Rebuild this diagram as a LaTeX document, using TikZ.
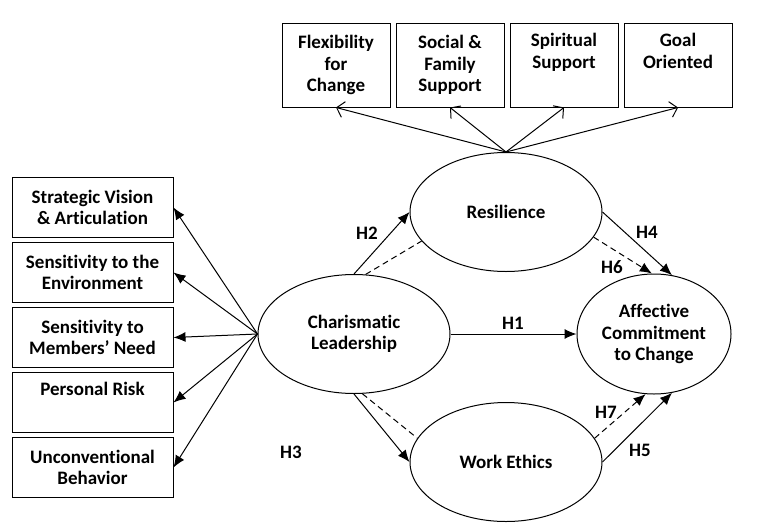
\documentclass[tikz,border=0pt]{standalone}
\usepackage{fontspec}
\setmainfont{Carlito}[Ligatures=NoCommon]
\usetikzlibrary{shapes.geometric, arrows.meta, positioning}

\begin{document}
\begin{tikzpicture}[
    x=1pt, y=-1pt,
    font=\bfseries\fontsize{19}{21.5}\selectfont,
    box/.style={rectangle, draw, line width=1pt, align=center, inner sep=2pt},
    topbox/.style={box, minimum width=108pt, minimum height=84pt},
    sidebox/.style={box, minimum width=161pt, minimum height=60pt},
    latent/.style={ellipse, draw, line width=1pt, align=center, inner sep=0pt, minimum width=192pt, minimum height=119pt},
    arrow/.style={line width=1pt, -{Latex[length=12pt,width=10pt]}},
    dasharrow/.style={arrow, dash pattern=on 6pt off 4pt},
    dashlink/.style={line width=1pt, dash pattern=on 6pt off 4pt},
    barb/.style={line width=1pt, -{Straight Barb[length=7pt,width=16pt]}},
    hyp/.style={inner sep=0pt}
]
    \useasboundingbox (0,0) rectangle (781,522);

    % Latent variables
    \node [latent] (char) at (354,334) {Charismatic\\Leadership};
    \node [latent] (res) at (506,212) {Resilience};
    \node [latent] (work) at (506,462) {Work Ethics};
    \node [latent, minimum width=154pt, minimum height=120pt] (aff) at (654,334) {Affective\\Commitment\\to Change};

    % Indicators of resilience
    \node [topbox] (flex) at (336,65) {Flexibility\\for\\Change};
    \node [topbox, right=5pt of flex] (social) {Social \&\\Family\\Support};
    \node [topbox, right=5pt of social] (spirit) {Spiritual\\Support\\\strut};
    \node [topbox, right=5pt of spirit] (goal) {Goal\\Oriented\\\strut};

    % Indicators of charismatic leadership
    \node [sidebox] (vision) at (92.5,207.5) {Strategic Vision\\\& Articulation};
    \node [sidebox, below=4pt of vision] (env) {Sensitivity to the\\Environment};
    \node [sidebox, below=4pt of env] (need) {Sensitivity to\\Members' Need};
    \node [sidebox, below=4pt of need] (risk) {Personal Risk\\\strut};
    \node [sidebox, below=4pt of risk] (unconv) {Unconventional\\Behavior};

    % Hypotheses
    \node [hyp] (h1) at (513,323) {H1};
    \node [hyp] (h2) at (367,233) {H2};
    \node [hyp] (h3) at (291,452) {H3};
    \node [hyp] (h4) at (647,232) {H4};
    \node [hyp] (h5) at (640,450) {H5};
    \node [hyp] (h6) at (612,267) {H6};
    \node [hyp] (h7) at (606,412) {H7};

    % Arrows
    \foreach \ind in {flex, social, spirit, goal}
        \draw [barb] (res.north) -- (\ind.south);
    \foreach \ind in {vision, env, need, risk, unconv}
        \draw [arrow] (char.west) -- (\ind.east);

    \draw [arrow] (char.east) -- (aff.west);
    \draw [arrow] (char.north) -- (res.west);
    \draw [dashlink] (char.79) -- (res.199);
    \draw [arrow] (char.south) -- (work.west);
    \draw [dashlink] (char.-82) -- (work.165);
    \draw [arrow] (res.east) -- (aff.73);
    \draw [dasharrow] (res.-16) -- (aff.92);
    \draw [arrow] (work.east) -- (aff.-73);
    \draw [dasharrow] (work.15) -- (aff.-98);

\end{tikzpicture}
\end{document}
